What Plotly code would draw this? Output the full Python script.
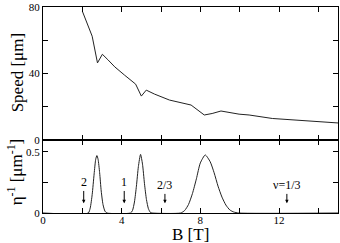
import plotly.graph_objects as go

# Top panel: speed vs B
b_speed = [2.0, 2.5, 2.77, 3.02, 3.3, 3.65, 4.15, 4.71, 5.0, 5.25, 5.67, 6.43,
           7.53, 8.2, 8.6, 9.05, 9.97, 10.48, 11.66, 13.35, 15.0]
speed = [77.5, 62.4, 46.3, 51.5, 48.2, 43.9, 38.9, 33.5, 26.3, 29.9, 27.5, 23.9,
         20.9, 14.9, 15.8, 17.3, 15.4, 14.9, 12.8, 11.4, 10.1]

# Bottom panel: inverse length vs B
b_eta = [0.0, 2.3, 2.4, 2.5, 2.6, 2.68, 2.74, 2.8, 2.88, 2.96, 3.05, 3.15, 3.25,
         4.45, 4.55, 4.65, 4.75, 4.85, 4.96, 5.06, 5.16, 5.26, 5.36, 5.46, 5.55,
         7.0, 7.2, 7.4, 7.6, 7.8, 8.0, 8.25, 8.5, 8.7, 8.9, 9.1, 9.3, 9.5, 9.7, 9.95, 15.0]
eta_inv = [0.0, 0.0, 0.04, 0.15, 0.32, 0.44, 0.47, 0.44, 0.33, 0.18, 0.07, 0.015, 0.0,
           0.0, 0.02, 0.09, 0.22, 0.38, 0.48, 0.40, 0.24, 0.11, 0.035, 0.005, 0.0,
           0.0, 0.02, 0.07, 0.16, 0.28, 0.41, 0.475, 0.42, 0.33, 0.22, 0.13, 0.065, 0.025, 0.008, 0.0, 0.0]

# Filling-factor markers
nu_b = [2.07, 4.13, 6.2, 12.4]
nu_labels = ["2", "1", "2/3", "ν=1/3"]
nu_text_y = [0.25, 0.25, 0.226, 0.226]
nu_arrow_tip = 0.08

FONT = "Liberation Serif"
split = 74 / 208

fig = go.Figure()
fig.add_trace(go.Scatter(x=b_speed, y=speed, mode="lines",
                         line=dict(color="#222222", width=1), xaxis="x2", yaxis="y2",
                         showlegend=False))
fig.add_trace(go.Scatter(x=b_eta, y=eta_inv, mode="lines",
                         line=dict(color="#222222", width=1, shape="spline", smoothing=0.6),
                         xaxis="x", yaxis="y", showlegend=False))

axis_common = dict(showline=True, linecolor="black", linewidth=1, mirror="ticks",
                   ticks="inside", ticklen=5, tickcolor="black", tickwidth=1,
                   showgrid=False, zeroline=False, ticklabeloverflow="allow",
                   tickfont=dict(family=FONT, size=11, color="black"))

fig.update_layout(
    width=340, height=243,
    margin=dict(l=43, r=1, t=5, b=30),
    paper_bgcolor="white", plot_bgcolor="white",
    font=dict(family=FONT, color="black"),
    xaxis=dict(domain=[0, 1], anchor="y", range=[0, 15], tickvals=[0, 4, 8, 12],
               ticklabelstandoff=-3,
               minor=dict(dtick=2, tick0=0, ticks="inside", ticklen=5, tickcolor="black"),
               **axis_common),
    yaxis=dict(domain=[0, split], anchor="x", range=[0, 0.6], tickvals=[0, 0.5],
               ticktext=["0", "0.5"],
               minor=dict(dtick=0.25, tick0=0, ticks="inside", ticklen=5, tickcolor="black"),
               **axis_common),
    xaxis2=dict(domain=[0, 1], anchor="y2", range=[0, 15], matches="x",
                tickvals=[0, 4, 8, 12], showticklabels=False,
                minor=dict(dtick=2, tick0=0, ticks="inside", ticklen=5, tickcolor="black"),
                **axis_common),
    yaxis2=dict(domain=[split, 1], anchor="x2", range=[0, 80], tickvals=[0, 40, 80],
                minor=dict(dtick=20, tick0=0, ticks="inside", ticklen=5, tickcolor="black"),
                **axis_common),
)

ann = []
for b, lab, ty in zip(nu_b, nu_labels, nu_text_y):
    ann.append(dict(x=b, y=nu_arrow_tip, xref="x", yref="y", ax=b, ay=ty,
                    axref="x", ayref="y", text=lab, showarrow=True,
                    arrowhead=2, arrowsize=0.7, arrowwidth=1, arrowcolor="black",
                    startstandoff=0, standoff=0,
                    font=dict(family=FONT, size=12, color="black")))

ann.append(dict(x=0, y=0.5, xref="paper", yref="y2 domain", xshift=-26,
                xanchor="center", yanchor="middle",
                text="Speed [μm]", textangle=-90, showarrow=False,
                font=dict(family=FONT, size=17, color="black")))
ann.append(dict(x=0, y=0.5, xref="paper", yref="y domain", xshift=-28, yshift=4,
                xanchor="center", yanchor="middle",
                text="η<sup>-1</sup> [μm<sup>-1</sup>]", textangle=-90, showarrow=False,
                font=dict(family=FONT, size=17, color="black")))
ann.append(dict(x=0.5, y=0, xref="paper", yref="paper", yshift=-21,
                xanchor="center", yanchor="middle",
                text="B [T]", showarrow=False,
                font=dict(family=FONT, size=17, color="black")))
fig.update_layout(annotations=ann)

fig.write_html("out.html", config={"displayModeBar": False},
               post_script="document.body.style.margin='0';document.body.style.padding='0';")
